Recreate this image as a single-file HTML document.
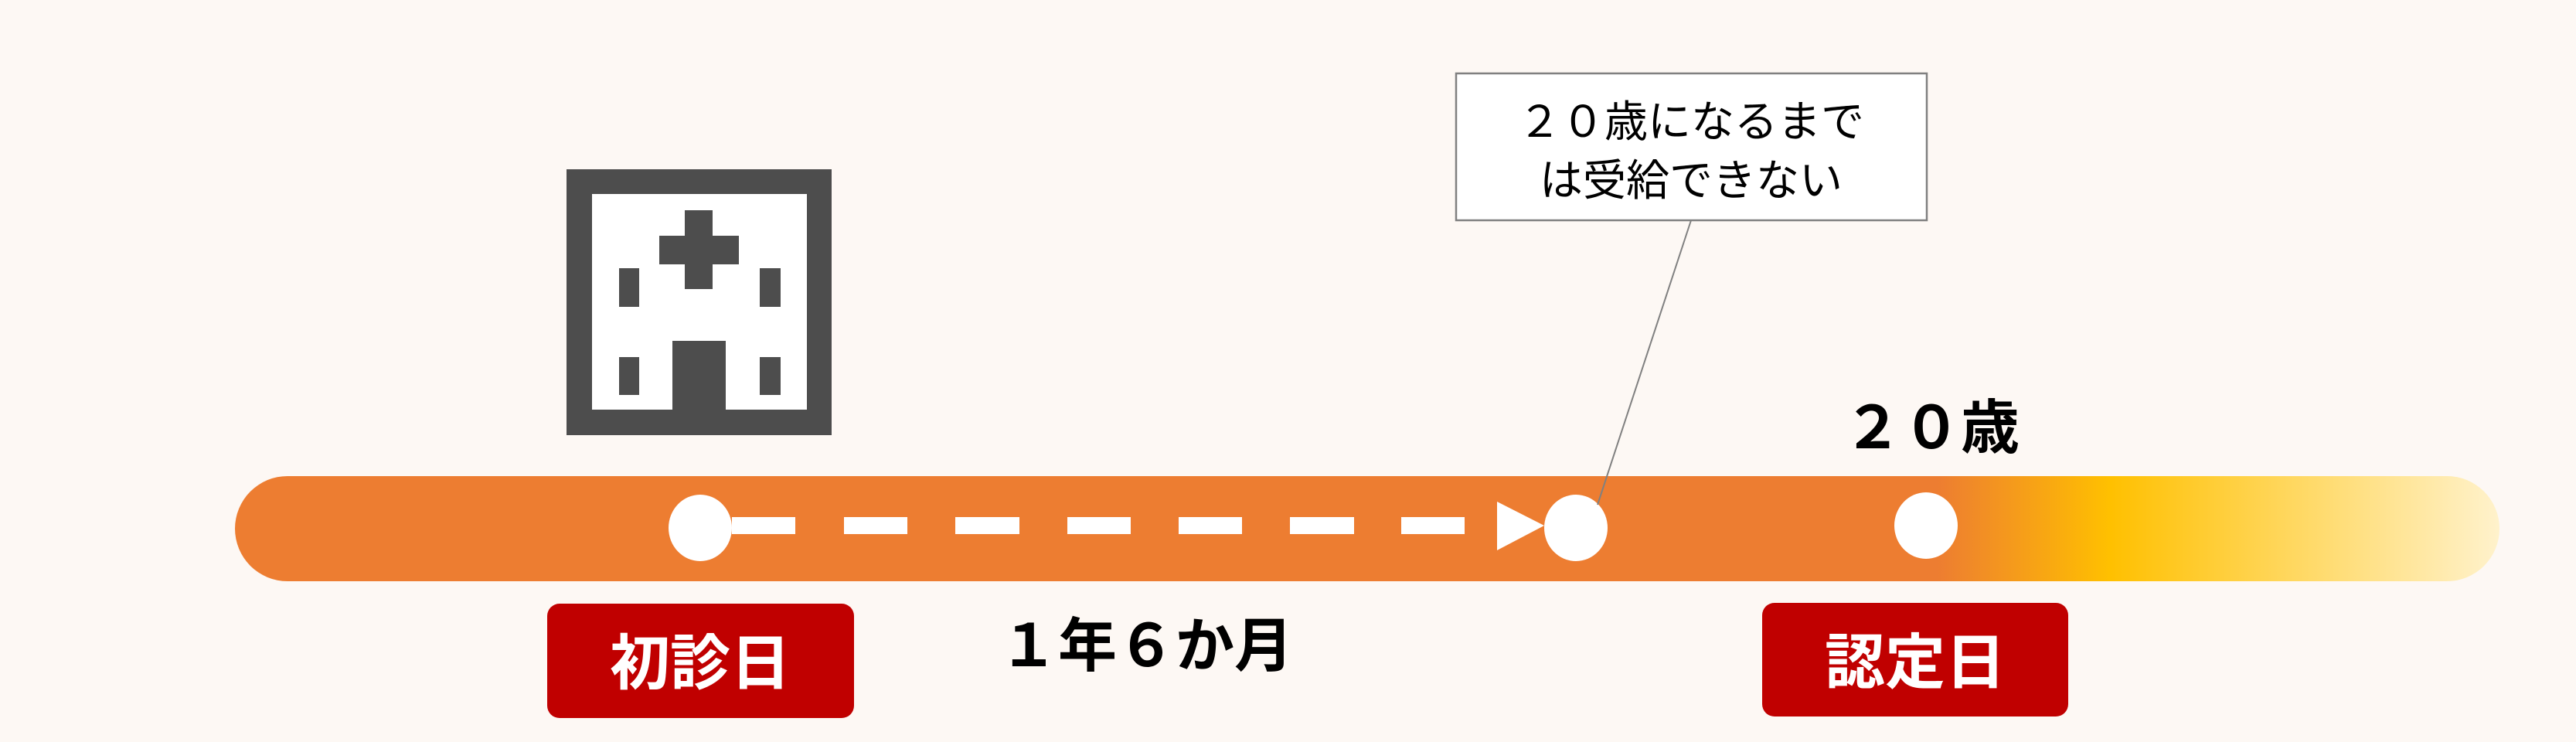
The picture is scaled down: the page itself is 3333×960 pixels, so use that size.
<!DOCTYPE html>
<html><head><meta charset="utf-8"><style>
html,body{margin:0;padding:0;background:#FDF8F4;}
svg{display:block;}
text{font-family:"Liberation Sans","Noto Sans CJK JP",sans-serif;}
</style></head><body>
<svg width="3333" height="960" viewBox="0 0 3333 960" xmlns="http://www.w3.org/2000/svg">
<defs>
<linearGradient id="g" x1="304" y1="0" x2="3234" y2="0" gradientUnits="userSpaceOnUse">
<stop offset="0" stop-color="#ED7D31"/>
<stop offset="0.752" stop-color="#ED7D31"/>
<stop offset="0.828" stop-color="#FFC000"/>
<stop offset="1" stop-color="#FFF2CC"/>
</linearGradient>
</defs>
<rect width="3333" height="960" fill="#FDF8F4"/>
<rect x="733" y="219" width="343" height="344" fill="#4D4D4D"/>
<rect x="766" y="251" width="278" height="279" fill="#fff"/>
<rect x="886" y="272" width="36" height="102" fill="#4D4D4D"/>
<rect x="853" y="305" width="103" height="37" fill="#4D4D4D"/>
<rect x="801" y="347" width="26" height="50" fill="#4D4D4D"/>
<rect x="983" y="347" width="27" height="50" fill="#4D4D4D"/>
<rect x="801" y="462" width="26" height="49" fill="#4D4D4D"/>
<rect x="983" y="462" width="27" height="49" fill="#4D4D4D"/>
<rect x="870" y="441" width="69" height="89" fill="#4D4D4D"/>
<rect x="304" y="616" width="2930" height="136" rx="68" ry="68" fill="url(#g)"/>
<g fill="#fff">
<rect x="947" y="669" width="82" height="22"/>
<rect x="1092" y="669" width="82" height="22"/>
<rect x="1236" y="669" width="83" height="22"/>
<rect x="1381" y="669" width="82" height="22"/>
<rect x="1525" y="669" width="82" height="22"/>
<rect x="1669" y="669" width="83" height="22"/>
<rect x="1813" y="669" width="82" height="22"/>
<polygon points="1937,649 1998,680 1937,712"/>
<ellipse cx="906" cy="683" rx="41" ry="43"/>
<ellipse cx="2039" cy="683" rx="41" ry="43"/>
<ellipse cx="2492" cy="680" rx="41" ry="43"/>
</g>
<line x1="2188" y1="285" x2="2067" y2="653" stroke="#808080" stroke-width="2"/>
<rect x="1884" y="95" width="609" height="190" fill="#fff" stroke="#808080" stroke-width="2.5"/>
<text x="2188" y="177" font-size="56" text-anchor="middle" fill="#000">２０歳になるまで</text>
<text x="2188" y="253" font-size="56" text-anchor="middle" fill="#000">は受給できない</text>
<text x="2499" y="580" font-size="76" font-weight="bold" text-anchor="middle" fill="#000">２０歳</text>
<rect x="708" y="781" width="397" height="148" rx="16" fill="#C00000"/>
<text x="906" y="885" font-size="78" font-weight="bold" text-anchor="middle" fill="#fff">初診日</text>
<rect x="2280" y="780" width="396" height="147" rx="16" fill="#C00000"/>
<text x="2478" y="884" font-size="78" font-weight="bold" text-anchor="middle" fill="#fff">認定日</text>
<text x="1483" y="862" font-size="76" font-weight="bold" text-anchor="middle" fill="#000">１年６か月</text>
</svg>
</body></html>
